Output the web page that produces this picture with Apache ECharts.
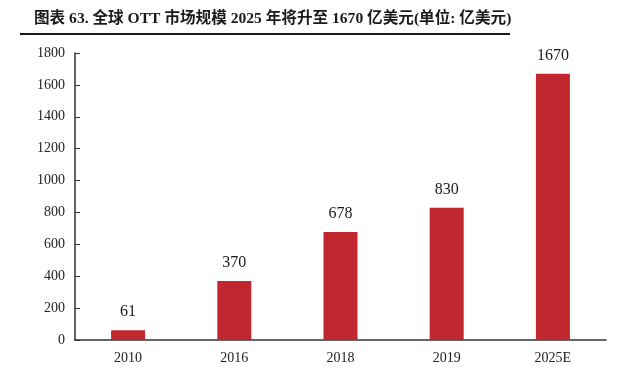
<!DOCTYPE html>
<html><head><meta charset="utf-8">
<script src="https://cdn.jsdelivr.net/npm/echarts@6/dist/echarts.min.js"></script>
<style>html,body{margin:0;padding:0;background:#fff}#c{width:640px;height:382px}</style>
</head><body><div id="c"></div>
<script>
const categories = ['2010', '2016', '2018', '2019', '2025E'];
const values = [61, 370, 678, 830, 1670];
const titleText = '图表 63. 全球 OTT 市场规模 2025 年将升至 1670 亿美元(单位: 亿美元)';

const serif = '"Liberation Serif", "Times New Roman", serif';
const chart = echarts.init(document.getElementById('c'));
chart.setOption({
  animation: false,
  backgroundColor: '#fff',
  title: {
    text: titleText,
    left: 29, top: 6,
    textStyle: { fontSize: 15.6, fontWeight: 'bold', color: '#1a1a1a', fontFamily: '"Liberation Serif", "Noto Sans CJK SC", serif' }
  },
  graphic: [{
    type: 'line', shape: { x1: 20, y1: 34, x2: 510, y2: 34 },
    style: { stroke: '#1a1a1a', lineWidth: 2 }
  }],
  grid: { left: 75, right: 34, top: 53, bottom: 42, containLabel: false },
  xAxis: {
    type: 'category', data: categories,
    axisLine: { lineStyle: { color: '#333', width: 1.5 } },
    axisTick: { show: false },
    axisLabel: { color: '#222', fontSize: 14, fontFamily: serif, margin: 11 }
  },
  yAxis: {
    type: 'value', min: 0, max: 1800, interval: 200,
    axisLine: { show: true, lineStyle: { color: '#333', width: 1.5 } },
    axisTick: { show: true, inside: true, length: 5, lineStyle: { color: '#333' } },
    splitLine: { show: false },
    axisLabel: { color: '#222', fontSize: 14, fontFamily: serif, margin: 10, formatter: v => String(v) }
  },
  series: [{
    type: 'bar', data: values, barWidth: 34,
    itemStyle: { color: '#C1272F' },
    label: { show: true, position: 'top', distance: 10, color: '#1a1a1a', fontSize: 16, fontFamily: serif }
  }]
});
</script></body></html>
